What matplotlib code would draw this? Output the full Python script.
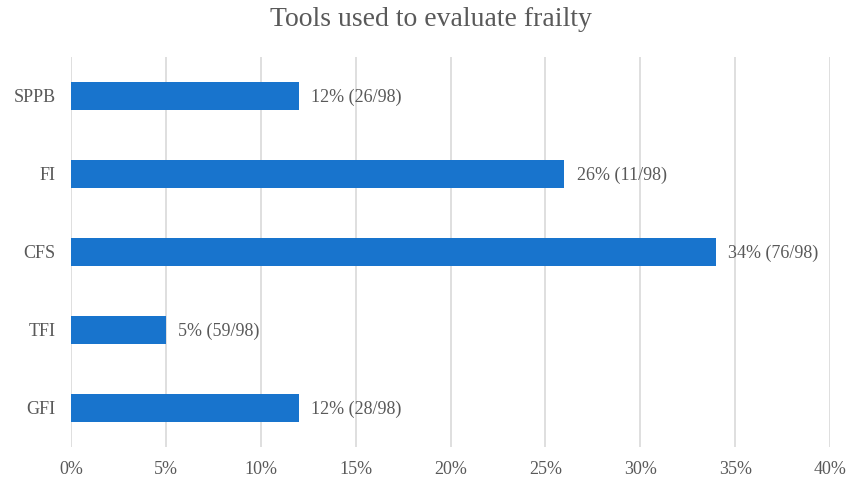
import matplotlib.pyplot as plt
from matplotlib.ticker import PercentFormatter

# frailty assessment tools, top to bottom
tools = ["SPPB", "FI", "CFS", "TFI", "GFI"]
percent = [12, 26, 34, 5, 12]
counts = ["26/98", "11/98", "76/98", "59/98", "28/98"]

plt.rcParams['font.family'] = ['Liberation Serif', 'DejaVu Serif']
text_color = "#595959"
bar_color = "#1874CD"

fig = plt.figure(figsize=(8.47, 4.8), dpi=100)
ax = fig.add_axes([71/847, 33/480, (830-71)/847, 390/480])

ypos = list(range(len(tools)))[::-1]
ax.barh(ypos, percent, height=0.36, color=bar_color, zorder=3)

for y, p, c in zip(ypos, percent, counts):
    ax.text(p + 0.65, y - 0.02, f"{p}% ({c})", va="center", ha="left",
            fontsize=13, color=text_color)

ax.set_xlim(0, 40)
ax.set_ylim(-0.5, len(tools) - 0.5)
ax.set_xticks(range(0, 41, 5))
ax.xaxis.set_major_formatter(PercentFormatter(decimals=0))
ax.set_yticks(ypos)
ax.set_yticklabels(tools)
ax.tick_params(length=0, labelsize=13, labelcolor=text_color)
ax.tick_params(axis="x", pad=10)
ax.tick_params(axis="y", pad=11)
ax.grid(axis="x", color="#D9D9D9", linewidth=1.2, zorder=0)
for s in ax.spines.values():
    s.set_visible(False)

fig.text(0.509, 0.96, "Tools used to evaluate frailty", ha="center", va="center",
         fontsize=20, color=text_color)

fig.savefig("out.png", dpi=100)
